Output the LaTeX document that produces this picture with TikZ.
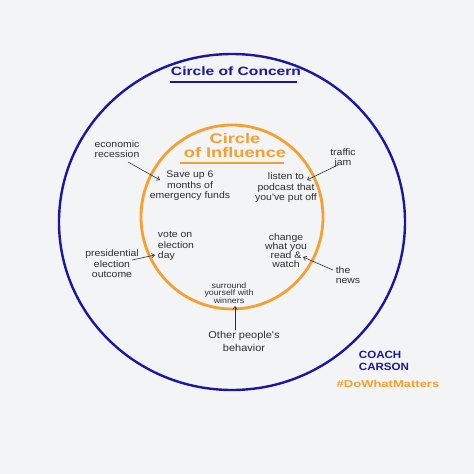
\documentclass[tikz,border=0pt]{standalone}
\usepackage{fontspec}
\setmainfont{Liberation Sans}
\newfontfamily\hand[FakeStretch=1.1]{Liberation Sans}
\newfontfamily\handwide[FakeStretch=1.3]{Liberation Sans}
\usetikzlibrary{arrows.meta}
\definecolor{bgc}{HTML}{F3F4F6}
\definecolor{navy}{HTML}{1C16A0}
\definecolor{org}{HTML}{F5A030}
\definecolor{ink}{HTML}{2E2E2E}
\tikzset{
  note/.style={align=center, text=ink, font=\hand\fontsize{9.5}{10.5}\selectfont, inner sep=0pt},
  ptr/.style={draw=ink, line width=0.6pt, -{Straight Barb[length=3pt,width=4.5pt]}}
}
\begin{document}
\begin{tikzpicture}[x=1pt,y=-1pt]
\path[fill=bgc] (0,0) rectangle (474,474);
\useasboundingbox (0,0) rectangle (474,474);
% outer circle
\draw[navy, line width=2.4pt] (232,222) ellipse [x radius=173, y radius=168];
% inner circle
\draw[org, line width=2.8pt] (232,217) ellipse [x radius=91, y radius=92];
% titles
\node[inner sep=0pt, text=navy, font=\handwide\fontsize{12}{14}\selectfont\bfseries] (concern) at (236,71) {Circle of Concern};
\draw[navy, line width=1.6pt] (170,82) -- (297,82);
\node[align=center, inner sep=0pt, text=org, font=\handwide\fontsize{14}{14}\selectfont\bfseries] (influence) at (235,145) {Circle\\of Influence};
\draw[org, line width=2pt] (180,163) -- (284,163);
% notes
\node[note, align=left] (econ) at (117,149) {economic\\recession};
\node[note] (save) at (190,186) {Save up 6\\months of\\emergency funds};
\node[note] (traffic) at (343,158) {traffic\\jam};
\node[note] (podcast) at (286,188) {listen to\\podcast that\\you've put off};
\node[note, align=left] (vote) at (176,246) {vote on\\election\\day};
\node[note] (pres) at (112,264) {presidential\\election\\outcome};
\node[note, font=\hand\fontsize{9.5}{9}\selectfont] (change) at (286,251) {change\\what you\\read \&\\watch};
\node[note, align=left] (news) at (348,275) {the\\news};
\node[note, font=\hand\fontsize{8}{7.8}\selectfont] (surround) at (229,293) {surround\\yourself with\\winners};
\node[note, font=\hand\fontsize{10}{13}\selectfont] (other) at (244,341) {Other people's\\behavior};
% arrows
\draw[ptr] ([xshift=11pt,yshift=-13pt]econ.center) -- ([xshift=-30pt,yshift=6pt]save.center);
\draw[ptr] ([xshift=-5pt,yshift=-7pt]traffic.center) -- ([xshift=21pt,yshift=8pt]podcast.center);
\draw[ptr] ([xshift=20pt,yshift=4pt]pres.center) -- ([xshift=-21pt,yshift=-9pt]vote.center);
\draw[ptr] ([xshift=-15pt,yshift=5pt]news.center) -- ([xshift=17pt,yshift=-6pt]change.center);
\draw[ptr] ([xshift=-9pt,yshift=11pt]other.center) -- ([xshift=6pt,yshift=-13pt]surround.center);
% branding
\node[inner sep=0pt, text=navy, font=\hand\fontsize{10.5}{12}\selectfont\bfseries, align=left] (coach) at (384,361) {COACH\\CARSON};
\node[inner sep=0pt, text=org, font=\handwide\fontsize{10}{10}\selectfont\bfseries] (tag) at (388,384) {\#DoWhatMatters};
\end{tikzpicture}
\end{document}
